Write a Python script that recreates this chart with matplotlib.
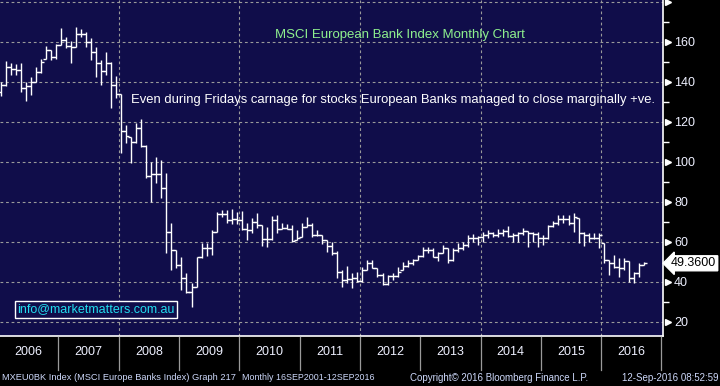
import matplotlib
matplotlib.use("Agg")
import matplotlib.pyplot as plt
import matplotlib.transforms as mtransforms
import numpy as np

plt.rcParams['font.family'] = ['Liberation Sans', 'DejaVu Sans']

# monthly bars, Jan 2006 .. Sep 2016
highs = [140.2, 150.5, 149.3, 149.0, 149.3, 140.2, 142.7, 147.7, 151.3, 158.0, 156.0, 159.0,
         166.8, 162.7, 160.7, 167.3, 166.3, 165.2, 161.8, 157.7, 151.0, 155.2, 150.2, 143.0,
         134.0, 118.5, 112.7, 119.3, 121.3, 108.5, 100.0, 102.7, 101.0, 94.7, 69.3, 56.0,
         52.7, 44.3, 39.3, 52.7, 59.3, 59.7, 66.0, 75.2, 76.0, 76.0, 76.5, 75.0,
         75.7, 69.7, 71.8, 74.3, 68.5, 67.7, 73.0, 73.5, 69.3, 69.0, 68.5, 66.0,
         69.7, 72.7, 69.3, 66.0, 63.5, 61.0, 60.2, 55.5, 46.0, 48.0, 44.3, 45.0,
         47.7, 51.0, 51.0, 46.8, 44.3, 43.5, 44.3, 47.7, 50.2, 51.0, 51.3, 53.5,
         57.3, 57.3, 56.8, 55.2, 58.5, 56.8, 56.8, 59.3, 60.2, 63.5, 63.8, 63.0,
         65.2, 66.0, 65.2, 66.3, 66.3, 68.0, 64.3, 65.2, 66.8, 65.7, 64.8, 65.2,
         63.5, 68.5, 70.7, 73.5, 73.5, 73.5, 74.3, 71.8, 65.2, 64.3, 64.3, 64.3,
         59.3, 51.0, 53.5, 51.8, 51.8, 50.5, 45.2, 49.3, 50.2]
lows = [133.0, 138.0, 143.5, 143.5, 135.2, 130.7, 133.5, 140.2, 144.3, 151.3, 151.0, 151.3,
        158.5, 156.8, 149.3, 157.7, 162.3, 157.7, 151.0, 142.3, 138.5, 143.5, 126.8, 132.0,
        104.3, 109.3, 99.3, 109.3, 107.7, 91.8, 80.0, 89.3, 81.8, 54.3, 46.0, 46.8,
        36.0, 34.3, 27.7, 37.7, 51.8, 53.0, 53.5, 65.2, 72.7, 69.7, 68.8, 69.0,
        66.0, 61.0, 64.3, 66.8, 58.0, 57.7, 61.0, 64.7, 66.3, 66.3, 60.2, 61.0,
        62.3, 67.7, 62.3, 63.0, 59.0, 55.2, 53.5, 41.8, 37.7, 39.3, 36.8, 40.0,
        40.2, 46.0, 46.8, 42.7, 38.5, 38.5, 41.0, 42.7, 46.0, 47.7, 48.5, 51.0,
        52.7, 54.3, 52.3, 50.7, 54.3, 49.7, 50.7, 55.2, 56.0, 57.7, 60.2, 58.5,
        60.2, 61.8, 62.3, 62.7, 63.0, 62.3, 60.2, 60.2, 63.5, 57.7, 60.2, 57.7,
        58.5, 61.3, 67.7, 68.5, 69.3, 68.5, 65.0, 59.3, 58.0, 60.2, 61.3, 56.8,
        49.3, 43.5, 46.8, 42.7, 46.0, 40.2, 39.3, 42.7, 48.5]
opens = [135.0, 138.5, 147.5, 146.5, 146.0, 137.0, 138.0, 140.2, 145.0, 151.3, 156.0, 152.5,
         158.5, 161.0, 158.0, 157.7, 163.8, 163.8, 160.0, 154.8, 149.3, 145.5, 149.3, 138.5,
         134.0, 115.5, 112.7, 110.0, 117.0, 108.0, 93.0, 94.0, 94.0, 87.0, 65.0, 56.0,
         48.5, 42.0, 35.0, 37.7, 52.7, 56.8, 57.0, 65.2, 73.8, 74.0, 71.0, 71.5,
         71.0, 66.5, 66.0, 70.0, 68.5, 61.3, 61.3, 71.0, 66.3, 66.8, 66.7, 61.0,
         62.3, 67.7, 68.5, 63.5, 63.5, 61.0, 58.0, 54.7, 45.2, 41.0, 41.3, 41.8,
         40.5, 46.0, 49.3, 46.8, 43.5, 38.8, 43.0, 43.0, 46.0, 48.0, 49.3, 51.0,
         53.0, 56.0, 56.0, 52.7, 54.3, 56.8, 51.0, 56.0, 56.8, 58.5, 62.0, 62.0,
         62.7, 63.5, 64.3, 63.5, 64.3, 65.5, 63.0, 63.5, 64.3, 65.7, 64.3, 64.0,
         61.8, 61.8, 68.0, 69.7, 71.3, 71.3, 69.3, 71.8, 64.3, 63.5, 61.8, 61.8,
         59.3, 51.0, 49.3, 47.7, 46.8, 50.5, 41.8, 44.3, 48.5]
closes = [138.5, 147.5, 146.5, 146.0, 137.0, 138.0, 140.0, 145.0, 150.0, 156.0, 152.5, 158.5,
          161.0, 158.0, 157.7, 163.8, 163.8, 160.0, 154.8, 149.3, 145.5, 149.3, 138.5, 134.0,
          115.5, 113.0, 110.0, 117.0, 108.0, 93.0, 94.0, 94.0, 87.0, 65.0, 56.0, 48.5,
          42.0, 35.0, 37.7, 52.7, 56.8, 57.0, 65.0, 73.8, 74.0, 71.0, 71.5, 71.0,
          66.5, 66.0, 70.0, 68.5, 61.3, 61.3, 71.0, 66.3, 66.8, 66.7, 60.5, 62.2,
          67.7, 68.5, 63.5, 63.5, 61.0, 58.0, 54.7, 45.2, 41.0, 41.3, 41.8, 40.5,
          46.0, 49.3, 47.0, 43.5, 38.8, 43.0, 43.0, 45.2, 48.0, 49.3, 51.0, 53.0,
          56.0, 56.0, 52.7, 54.3, 56.8, 51.0, 56.0, 56.8, 58.5, 62.0, 62.0, 62.7,
          63.5, 64.3, 63.5, 64.3, 65.5, 63.0, 63.5, 64.3, 65.7, 64.3, 64.0, 61.8,
          61.8, 68.0, 69.7, 71.3, 71.3, 69.3, 72.3, 64.3, 63.5, 61.8, 61.8, 63.5,
          51.0, 49.3, 47.7, 46.8, 50.5, 41.8, 44.3, 48.5, 49.36]

years = ['2006', '2007', '2008', '2009', '2010', '2011', '2012', '2013', '2014', '2015', '2016']
last_price = '49.3600'

navy = '#100d4a'
W, H = 720, 386

def fx(px):
    return px / W

def fy(py):
    return 1 - py / H

fig = plt.figure(figsize=(7.2, 3.86), dpi=100, facecolor='black')
ax = fig.add_axes([0, fy(336), fx(663), 336 / H])
ax.set_facecolor(navy)

idx = np.arange(len(closes))
ax.vlines(idx, lows, highs, colors='white', lw=1.0)
ax.hlines(opens, idx - 0.6, idx, colors='white', lw=1.0)
ax.hlines(closes, idx, idx + 0.6, colors='white', lw=1.0)

ax.set_xlim(-0.1, 131.8)
ax.set_ylim(13, 181)

# grid
for v in range(20, 181, 20):
    ax.axhline(v, color='#9a9a9a', lw=0.8, ls=(0, (2.5, 2.5)), zorder=0)
for k in range(2, 11, 2):
    ax.axvline(12 * k - 0.5, color='#9a9a9a', lw=0.8, ls=(0, (2.5, 2.5)), zorder=0)

for s in ['left', 'top']:
    ax.spines[s].set_visible(False)
ax.spines['right'].set_color('white')
ax.spines['bottom'].set_color('white')
ax.spines['right'].set_linewidth(1.2)
ax.spines['bottom'].set_linewidth(1.2)

ax.set_xticks([])
ax.yaxis.tick_right()
ax.set_yticks(range(20, 181, 20))
ax.set_yticklabels([str(v) for v in range(20, 161, 20)] + [''])
ax.set_yticks(range(30, 180, 20), minor=True)
ax.tick_params(axis='y', which='major', length=0, pad=8, labelsize=9, labelcolor='#eef0ff')
ax.tick_params(axis='y', which='minor', length=4, width=1, color='white', direction='out')

# triangle tick marks
trans = mtransforms.blended_transform_factory(ax.transAxes, ax.transData)
ax.plot([1.008] * 9, range(20, 181, 20), marker='>', ms=5, color='white', ls='none',
        transform=trans, clip_on=False)

# last price flag
ax.text(1.012, closes[-1], last_price, transform=trans, fontsize=9, color='black',
        va='center', ha='left',
        bbox=dict(boxstyle='larrow,pad=0.12', fc='white', ec='white'))

# year axis below
for i, y in enumerate(years):
    xp = (12 * i + 5.5 + 0.1) / 131.9 * 663
    fig.text(fx(xp), fy(352), y, color='#eef0ff', fontsize=9, ha='center', va='center')
for i in range(1, len(years) + 1):
    xp = (12 * i - 0.5 + 0.1) / 131.9 * 663
    fig.add_artist(plt.Line2D([fx(xp), fx(xp)], [fy(337), fy(370)], color='#9a9a9a', lw=0.9))

# texts
fig.text(fx(400), fy(35), 'MSCI European Bank Index Monthly Chart', color='#8ef08e',
         fontsize=9.5, ha='center', va='center')
fig.text(fx(131), fy(100),
         'Even during Fridays carnage for stocks European Banks managed to close marginally +ve.',
         color='white', fontsize=9.35, ha='left', va='center')
fig.text(fx(17), fy(309), 'info@marketmatters.com.au', color='#22ddee', fontsize=9,
         ha='left', va='center',
         bbox=dict(boxstyle='square,pad=0.2', fc=navy, ec='white', lw=1))

# footer
foot = '#cdd8fa'
fig.text(fx(2), fy(378), 'MXEU0BK Index (MSCI Europe Banks Index) Graph 217', color=foot,
         fontsize=6.7, ha='left', va='center')
fig.text(fx(242), fy(378), 'Monthly 16SEP2001-12SEP2016', color=foot, fontsize=6.4,
         ha='left', va='center')
fig.text(fx(410), fy(378), 'Copyright\u00a9 2016 Bloomberg Finance L.P.', color=foot,
         fontsize=7, ha='left', va='center')
fig.text(fx(718), fy(378), '12-Sep-2016 08:52:59', color=foot, fontsize=7,
         ha='right', va='center')

fig.savefig('out.png', dpi=100, facecolor='black')
